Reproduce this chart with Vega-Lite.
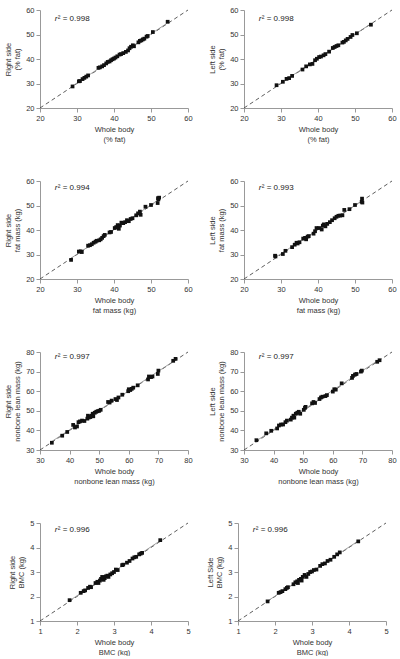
{
  "$schema": "https://vega.github.io/schema/vega-lite/v6.json",
  "background": "white",
  "padding": {"left": 4, "top": 6, "right": 2, "bottom": 0},
  "spacing": 34,
  "datasets": {
    "p1": [{"x":28.8,"y":28.8},{"x":30.5,"y":30.9},{"x":30.8,"y":31.0},{"x":31.5,"y":31.8},{"x":32.0,"y":32.3},{"x":32.5,"y":32.8},{"x":33.0,"y":33.3},{"x":35.8,"y":36.4},{"x":36.2,"y":36.6},{"x":36.8,"y":37.0},{"x":37.3,"y":37.5},{"x":37.9,"y":38.2},{"x":38.3,"y":38.8},{"x":38.8,"y":39.0},{"x":39.2,"y":39.5},{"x":39.6,"y":39.9},{"x":40.0,"y":40.2},{"x":40.4,"y":40.6},{"x":40.9,"y":41.1},{"x":41.5,"y":41.8},{"x":41.9,"y":42.0},{"x":42.5,"y":42.4},{"x":43.2,"y":42.9},{"x":43.8,"y":43.5},{"x":44.2,"y":44.4},{"x":44.6,"y":45.0},{"x":45.1,"y":45.6},{"x":45.4,"y":45.2},{"x":46.6,"y":46.8},{"x":47.0,"y":47.4},{"x":47.4,"y":47.6},{"x":47.8,"y":48.0},{"x":48.2,"y":48.3},{"x":48.8,"y":49.1},{"x":49.1,"y":49.4},{"x":50.5,"y":51.0},{"x":54.5,"y":55.2}],
    "p2": [{"x":28.8,"y":29.3},{"x":30.5,"y":30.7},{"x":31.5,"y":31.9},{"x":32.2,"y":32.2},{"x":33.0,"y":33.1},{"x":35.8,"y":35.7},{"x":36.8,"y":37.0},{"x":37.8,"y":37.8},{"x":38.5,"y":38.0},{"x":39.2,"y":39.5},{"x":39.7,"y":40.1},{"x":40.3,"y":40.8},{"x":40.8,"y":41.0},{"x":41.5,"y":41.5},{"x":42.0,"y":42.0},{"x":43.0,"y":43.0},{"x":44.0,"y":44.5},{"x":44.5,"y":44.9},{"x":45.0,"y":45.3},{"x":45.5,"y":45.6},{"x":46.6,"y":46.7},{"x":47.0,"y":47.0},{"x":47.5,"y":47.6},{"x":48.0,"y":48.2},{"x":48.8,"y":49.0},{"x":49.3,"y":49.8},{"x":50.5,"y":50.5},{"x":54.3,"y":54.0}],
    "p3": [{"x":28.4,"y":27.8},{"x":30.5,"y":31.2},{"x":31.0,"y":31.3},{"x":31.3,"y":31.0},{"x":33.0,"y":33.6},{"x":33.5,"y":33.8},{"x":34.0,"y":34.2},{"x":34.5,"y":34.8},{"x":35.0,"y":35.2},{"x":35.3,"y":35.6},{"x":36.0,"y":35.8},{"x":36.4,"y":36.2},{"x":36.8,"y":36.8},{"x":37.2,"y":37.5},{"x":37.5,"y":38.0},{"x":38.8,"y":39.0},{"x":39.2,"y":39.2},{"x":40.2,"y":40.8},{"x":40.6,"y":41.2},{"x":41.0,"y":42.0},{"x":41.3,"y":40.5},{"x":41.6,"y":41.8},{"x":42.0,"y":43.0},{"x":42.5,"y":42.8},{"x":43.0,"y":43.2},{"x":43.5,"y":44.0},{"x":44.0,"y":43.6},{"x":44.5,"y":44.5},{"x":45.0,"y":44.8},{"x":46.0,"y":46.0},{"x":46.5,"y":46.8},{"x":47.0,"y":47.5},{"x":47.2,"y":46.2},{"x":48.5,"y":49.5},{"x":50.0,"y":50.2},{"x":51.8,"y":51.0},{"x":52.0,"y":52.5},{"x":52.2,"y":53.2},{"x":51.9,"y":53.0}],
    "p4": [{"x":28.4,"y":29.5},{"x":28.5,"y":29.2},{"x":30.5,"y":30.2},{"x":31.2,"y":31.5},{"x":33.0,"y":33.0},{"x":33.7,"y":34.0},{"x":34.2,"y":34.8},{"x":34.5,"y":34.5},{"x":35.0,"y":35.0},{"x":36.0,"y":36.5},{"x":36.5,"y":36.8},{"x":36.8,"y":36.2},{"x":37.2,"y":37.3},{"x":37.5,"y":37.5},{"x":38.8,"y":38.5},{"x":39.2,"y":39.5},{"x":39.6,"y":40.8},{"x":40.3,"y":40.8},{"x":41.0,"y":40.2},{"x":41.3,"y":41.8},{"x":41.6,"y":42.3},{"x":42.0,"y":41.5},{"x":42.5,"y":42.5},{"x":43.2,"y":43.2},{"x":43.8,"y":44.0},{"x":44.5,"y":44.8},{"x":45.0,"y":45.4},{"x":45.5,"y":45.8},{"x":46.0,"y":45.9},{"x":46.6,"y":46.0},{"x":47.1,"y":48.2},{"x":48.5,"y":48.5},{"x":50.0,"y":50.2},{"x":51.8,"y":51.5},{"x":51.9,"y":52.8},{"x":52.0,"y":51.2}],
    "p5": [{"x":34.0,"y":33.7},{"x":37.5,"y":37.3},{"x":39.2,"y":39.2},{"x":41.2,"y":42.8},{"x":41.8,"y":41.5},{"x":42.5,"y":42.0},{"x":43.0,"y":44.2},{"x":43.5,"y":44.6},{"x":44.2,"y":45.0},{"x":45.0,"y":44.8},{"x":46.0,"y":46.0},{"x":46.2,"y":47.5},{"x":46.5,"y":46.6},{"x":47.0,"y":46.8},{"x":47.5,"y":47.5},{"x":47.8,"y":48.5},{"x":48.0,"y":47.2},{"x":48.5,"y":49.0},{"x":49.0,"y":49.5},{"x":49.5,"y":49.8},{"x":50.0,"y":50.0},{"x":50.5,"y":50.5},{"x":53.0,"y":54.5},{"x":53.5,"y":54.2},{"x":54.2,"y":55.2},{"x":55.5,"y":56.0},{"x":56.0,"y":55.5},{"x":56.5,"y":56.8},{"x":57.8,"y":58.2},{"x":59.8,"y":60.0},{"x":60.0,"y":61.0},{"x":60.5,"y":60.6},{"x":61.0,"y":61.2},{"x":61.5,"y":61.8},{"x":63.0,"y":63.0},{"x":66.5,"y":66.0},{"x":66.8,"y":67.5},{"x":67.5,"y":67.2},{"x":68.0,"y":67.5},{"x":69.8,"y":68.8},{"x":70.0,"y":70.5},{"x":75.0,"y":75.5},{"x":75.8,"y":76.5}],
    "p6": [{"x":34.2,"y":35.0},{"x":37.5,"y":38.5},{"x":39.2,"y":39.8},{"x":41.2,"y":41.0},{"x":41.8,"y":42.5},{"x":42.5,"y":43.0},{"x":43.2,"y":43.0},{"x":44.0,"y":44.2},{"x":44.5,"y":45.0},{"x":45.8,"y":45.5},{"x":46.2,"y":46.5},{"x":46.7,"y":47.5},{"x":47.0,"y":46.5},{"x":47.5,"y":48.5},{"x":48.0,"y":49.0},{"x":48.5,"y":49.5},{"x":49.0,"y":48.5},{"x":50.2,"y":50.5},{"x":50.6,"y":51.5},{"x":50.8,"y":52.0},{"x":53.0,"y":53.8},{"x":53.5,"y":54.5},{"x":54.0,"y":54.0},{"x":55.5,"y":56.0},{"x":56.0,"y":56.8},{"x":56.5,"y":57.2},{"x":57.5,"y":57.5},{"x":58.0,"y":58.0},{"x":60.0,"y":59.8},{"x":60.5,"y":61.0},{"x":61.0,"y":60.8},{"x":63.0,"y":64.0},{"x":66.5,"y":66.8},{"x":66.8,"y":67.8},{"x":67.5,"y":68.5},{"x":68.0,"y":68.8},{"x":69.5,"y":70.0},{"x":69.8,"y":70.5},{"x":75.0,"y":75.0},{"x":75.8,"y":75.8}],
    "p7": [{"x":1.8,"y":1.85},{"x":2.1,"y":2.15},{"x":2.18,"y":2.22},{"x":2.22,"y":2.25},{"x":2.3,"y":2.35},{"x":2.35,"y":2.4},{"x":2.38,"y":2.38},{"x":2.5,"y":2.55},{"x":2.55,"y":2.6},{"x":2.58,"y":2.55},{"x":2.62,"y":2.65},{"x":2.65,"y":2.72},{"x":2.68,"y":2.8},{"x":2.72,"y":2.68},{"x":2.75,"y":2.75},{"x":2.78,"y":2.82},{"x":2.82,"y":2.85},{"x":2.85,"y":2.8},{"x":2.9,"y":2.9},{"x":2.95,"y":2.95},{"x":3.0,"y":3.0},{"x":3.05,"y":3.1},{"x":3.1,"y":3.08},{"x":3.22,"y":3.28},{"x":3.25,"y":3.3},{"x":3.35,"y":3.38},{"x":3.42,"y":3.45},{"x":3.5,"y":3.55},{"x":3.55,"y":3.6},{"x":3.6,"y":3.62},{"x":3.68,"y":3.72},{"x":3.72,"y":3.75},{"x":3.76,"y":3.78},{"x":4.25,"y":4.3}],
    "p8": [{"x":1.8,"y":1.8},{"x":2.1,"y":2.15},{"x":2.15,"y":2.18},{"x":2.2,"y":2.22},{"x":2.28,"y":2.3},{"x":2.32,"y":2.35},{"x":2.35,"y":2.38},{"x":2.5,"y":2.5},{"x":2.55,"y":2.58},{"x":2.6,"y":2.62},{"x":2.62,"y":2.55},{"x":2.65,"y":2.68},{"x":2.7,"y":2.72},{"x":2.72,"y":2.65},{"x":2.75,"y":2.8},{"x":2.8,"y":2.88},{"x":2.85,"y":2.8},{"x":2.9,"y":2.92},{"x":2.95,"y":3.0},{"x":3.0,"y":3.02},{"x":3.05,"y":3.08},{"x":3.12,"y":3.1},{"x":3.22,"y":3.25},{"x":3.28,"y":3.32},{"x":3.35,"y":3.35},{"x":3.42,"y":3.45},{"x":3.5,"y":3.5},{"x":3.6,"y":3.62},{"x":3.68,"y":3.72},{"x":3.75,"y":3.8},{"x":4.25,"y":4.25}],
    "id20": [{"x":20,"y":20},{"x":60,"y":60}],
    "id30": [{"x":30,"y":30},{"x":80,"y":80}],
    "id1": [{"x":1,"y":1},{"x":5,"y":5}]
  },
  "vconcat": [
    {"hconcat": [
      {"width":148,"height":98,
       "layer":[
        {"data":{"name":"id20"},"mark":{"type":"line","color":"#333","strokeWidth":0.8,"strokeDash":[4,3]},
         "encoding":{"x":{"field":"x","type":"quantitative","scale":{"domain":[20,60]},"axis":{"values":[20,30,40,50,60],"tickCount":10,"title":["Whole body","(% fat)"]}},
                     "y":{"field":"y","type":"quantitative","scale":{"domain":[20,60]},"axis":{"values":[20,30,40,50,60],"tickCount":10,"title":["Right side","(% fat)"]}}}},
        {"data":{"name":"p1"},"transform":[{"regression":"y","on":"x"}],"mark":{"type":"line","color":"#888","strokeWidth":0.8},"encoding":{"x":{"field":"x","type":"quantitative"},"y":{"field":"y","type":"quantitative"}}},
        {"data":{"name":"p1"},"mark":{"type":"point","shape":"square","filled":true,"color":"#111","opacity":1,"size":14},"encoding":{"x":{"field":"x","type":"quantitative"},"y":{"field":"y","type":"quantitative"}}},
        {"data":{"values":[{"r2":"0.998"}]},"mark":{"type":"text","align":"left","baseline":"middle","fontSize":8,"fontStyle":"italic","color":"#222"},"encoding":{"x":{"datum":24},"y":{"datum":56.3},"text":{"value":"r"}}},
        {"data":{"values":[{"r2":"0.998"}]},"mark":{"type":"text","align":"left","baseline":"middle","fontSize":8,"dx":3,"color":"#222"},"encoding":{"x":{"datum":24},"y":{"datum":56.3},"text":{"value":"² = 0.998"}}}
       ]},
      {"width":148,"height":98,
       "layer":[
        {"data":{"name":"id20"},"mark":{"type":"line","color":"#333","strokeWidth":0.8,"strokeDash":[4,3]},
         "encoding":{"x":{"field":"x","type":"quantitative","scale":{"domain":[20,60]},"axis":{"values":[20,30,40,50,60],"tickCount":10,"title":["Whole body","(% fat)"]}},
                     "y":{"field":"y","type":"quantitative","scale":{"domain":[20,60]},"axis":{"values":[20,30,40,50,60],"tickCount":10,"title":["Left side","(% fat)"]}}}},
        {"data":{"name":"p2"},"transform":[{"regression":"y","on":"x"}],"mark":{"type":"line","color":"#888","strokeWidth":0.8},"encoding":{"x":{"field":"x","type":"quantitative"},"y":{"field":"y","type":"quantitative"}}},
        {"data":{"name":"p2"},"mark":{"type":"point","shape":"square","filled":true,"color":"#111","opacity":1,"size":14},"encoding":{"x":{"field":"x","type":"quantitative"},"y":{"field":"y","type":"quantitative"}}},
        {"data":{"values":[{"r2":"0.998"}]},"mark":{"type":"text","align":"left","baseline":"middle","fontSize":8,"fontStyle":"italic","color":"#222"},"encoding":{"x":{"datum":24},"y":{"datum":56.3},"text":{"value":"r"}}},
        {"data":{"values":[{"r2":"0.998"}]},"mark":{"type":"text","align":"left","baseline":"middle","fontSize":8,"dx":3,"color":"#222"},"encoding":{"x":{"datum":24},"y":{"datum":56.3},"text":{"value":"² = 0.998"}}}
       ]}
    ]},
    {"hconcat": [
      {"width":148,"height":98,
       "layer":[
        {"data":{"name":"id20"},"mark":{"type":"line","color":"#333","strokeWidth":0.8,"strokeDash":[4,3]},
         "encoding":{"x":{"field":"x","type":"quantitative","scale":{"domain":[20,60]},"axis":{"values":[20,30,40,50,60],"tickCount":10,"title":["Whole body","fat mass (kg)"]}},
                     "y":{"field":"y","type":"quantitative","scale":{"domain":[20,60]},"axis":{"values":[20,30,40,50,60],"tickCount":10,"title":["Right side","fat mass (kg)"]}}}},
        {"data":{"name":"p3"},"transform":[{"regression":"y","on":"x"}],"mark":{"type":"line","color":"#888","strokeWidth":0.8},"encoding":{"x":{"field":"x","type":"quantitative"},"y":{"field":"y","type":"quantitative"}}},
        {"data":{"name":"p3"},"mark":{"type":"point","shape":"square","filled":true,"color":"#111","opacity":1,"size":14},"encoding":{"x":{"field":"x","type":"quantitative"},"y":{"field":"y","type":"quantitative"}}},
        {"data":{"values":[{"r2":"0.994"}]},"mark":{"type":"text","align":"left","baseline":"middle","fontSize":8,"fontStyle":"italic","color":"#222"},"encoding":{"x":{"datum":24},"y":{"datum":57.3},"text":{"value":"r"}}},
        {"data":{"values":[{"r2":"0.994"}]},"mark":{"type":"text","align":"left","baseline":"middle","fontSize":8,"dx":3,"color":"#222"},"encoding":{"x":{"datum":24},"y":{"datum":57.3},"text":{"value":"² = 0.994"}}}
       ]},
      {"width":148,"height":98,
       "layer":[
        {"data":{"name":"id20"},"mark":{"type":"line","color":"#333","strokeWidth":0.8,"strokeDash":[4,3]},
         "encoding":{"x":{"field":"x","type":"quantitative","scale":{"domain":[20,60]},"axis":{"values":[20,30,40,50,60],"tickCount":10,"title":["Whole body","fat mass (kg)"]}},
                     "y":{"field":"y","type":"quantitative","scale":{"domain":[20,60]},"axis":{"values":[20,30,40,50,60],"tickCount":10,"title":["Left side","fat mass (kg)"]}}}},
        {"data":{"name":"p4"},"transform":[{"regression":"y","on":"x"}],"mark":{"type":"line","color":"#888","strokeWidth":0.8},"encoding":{"x":{"field":"x","type":"quantitative"},"y":{"field":"y","type":"quantitative"}}},
        {"data":{"name":"p4"},"mark":{"type":"point","shape":"square","filled":true,"color":"#111","opacity":1,"size":14},"encoding":{"x":{"field":"x","type":"quantitative"},"y":{"field":"y","type":"quantitative"}}},
        {"data":{"values":[{"r2":"0.993"}]},"mark":{"type":"text","align":"left","baseline":"middle","fontSize":8,"fontStyle":"italic","color":"#222"},"encoding":{"x":{"datum":24},"y":{"datum":57.3},"text":{"value":"r"}}},
        {"data":{"values":[{"r2":"0.993"}]},"mark":{"type":"text","align":"left","baseline":"middle","fontSize":8,"dx":3,"color":"#222"},"encoding":{"x":{"datum":24},"y":{"datum":57.3},"text":{"value":"² = 0.993"}}}
       ]}
    ]},
    {"hconcat": [
      {"width":148,"height":98,
       "layer":[
        {"data":{"name":"id30"},"mark":{"type":"line","color":"#333","strokeWidth":0.8,"strokeDash":[4,3]},
         "encoding":{"x":{"field":"x","type":"quantitative","scale":{"domain":[30,80]},"axis":{"values":[30,40,50,60,70,80],"tickCount":10,"title":["Whole body","nonbone lean mass (kg)"]}},
                     "y":{"field":"y","type":"quantitative","scale":{"domain":[30,80]},"axis":{"values":[30,40,50,60,70,80],"tickCount":10,"title":["Right side","nonbone lean mass (kg)"]}}}},
        {"data":{"name":"p5"},"transform":[{"regression":"y","on":"x"}],"mark":{"type":"line","color":"#888","strokeWidth":0.8},"encoding":{"x":{"field":"x","type":"quantitative"},"y":{"field":"y","type":"quantitative"}}},
        {"data":{"name":"p5"},"mark":{"type":"point","shape":"square","filled":true,"color":"#111","opacity":1,"size":14},"encoding":{"x":{"field":"x","type":"quantitative"},"y":{"field":"y","type":"quantitative"}}},
        {"data":{"values":[{"r2":"0.997"}]},"mark":{"type":"text","align":"left","baseline":"middle","fontSize":8,"fontStyle":"italic","color":"#222"},"encoding":{"x":{"datum":35},"y":{"datum":77.5},"text":{"value":"r"}}},
        {"data":{"values":[{"r2":"0.997"}]},"mark":{"type":"text","align":"left","baseline":"middle","fontSize":8,"dx":3,"color":"#222"},"encoding":{"x":{"datum":35},"y":{"datum":77.5},"text":{"value":"² = 0.997"}}}
       ]},
      {"width":148,"height":98,
       "layer":[
        {"data":{"name":"id30"},"mark":{"type":"line","color":"#333","strokeWidth":0.8,"strokeDash":[4,3]},
         "encoding":{"x":{"field":"x","type":"quantitative","scale":{"domain":[30,80]},"axis":{"values":[30,40,50,60,70,80],"tickCount":10,"title":["Whole body","nonbone lean mass (kg)"]}},
                     "y":{"field":"y","type":"quantitative","scale":{"domain":[30,80]},"axis":{"values":[30,40,50,60,70,80],"tickCount":10,"title":["Left side","nonbone lean mass (kg)"]}}}},
        {"data":{"name":"p6"},"transform":[{"regression":"y","on":"x"}],"mark":{"type":"line","color":"#888","strokeWidth":0.8},"encoding":{"x":{"field":"x","type":"quantitative"},"y":{"field":"y","type":"quantitative"}}},
        {"data":{"name":"p6"},"mark":{"type":"point","shape":"square","filled":true,"color":"#111","opacity":1,"size":14},"encoding":{"x":{"field":"x","type":"quantitative"},"y":{"field":"y","type":"quantitative"}}},
        {"data":{"values":[{"r2":"0.997"}]},"mark":{"type":"text","align":"left","baseline":"middle","fontSize":8,"fontStyle":"italic","color":"#222"},"encoding":{"x":{"datum":35},"y":{"datum":77.5},"text":{"value":"r"}}},
        {"data":{"values":[{"r2":"0.997"}]},"mark":{"type":"text","align":"left","baseline":"middle","fontSize":8,"dx":3,"color":"#222"},"encoding":{"x":{"datum":35},"y":{"datum":77.5},"text":{"value":"² = 0.997"}}}
       ]}
    ]},
    {"hconcat": [
      {"width":148,"height":98,
       "layer":[
        {"data":{"name":"id1"},"mark":{"type":"line","color":"#333","strokeWidth":0.8,"strokeDash":[4,3]},
         "encoding":{"x":{"field":"x","type":"quantitative","scale":{"domain":[1,5]},"axis":{"values":[1,2,3,4,5],"tickCount":10,"format":"d","title":["Whole body","BMC (kg)"]}},
                     "y":{"field":"y","type":"quantitative","scale":{"domain":[1,5]},"axis":{"values":[1,2,3,4,5],"tickCount":10,"format":"d","title":["Right side","BMC (kg)"]}}}},
        {"data":{"name":"p7"},"transform":[{"regression":"y","on":"x"}],"mark":{"type":"line","color":"#888","strokeWidth":0.8},"encoding":{"x":{"field":"x","type":"quantitative"},"y":{"field":"y","type":"quantitative"}}},
        {"data":{"name":"p7"},"mark":{"type":"point","shape":"square","filled":true,"color":"#111","opacity":1,"size":14},"encoding":{"x":{"field":"x","type":"quantitative"},"y":{"field":"y","type":"quantitative"}}},
        {"data":{"values":[{"r2":"0.996"}]},"mark":{"type":"text","align":"left","baseline":"middle","fontSize":8,"fontStyle":"italic","color":"#222"},"encoding":{"x":{"datum":1.4},"y":{"datum":4.72},"text":{"value":"r"}}},
        {"data":{"values":[{"r2":"0.996"}]},"mark":{"type":"text","align":"left","baseline":"middle","fontSize":8,"dx":3,"color":"#222"},"encoding":{"x":{"datum":1.4},"y":{"datum":4.72},"text":{"value":"² = 0.996"}}}
       ]},
      {"width":148,"height":98,
       "layer":[
        {"data":{"name":"id1"},"mark":{"type":"line","color":"#333","strokeWidth":0.8,"strokeDash":[4,3]},
         "encoding":{"x":{"field":"x","type":"quantitative","scale":{"domain":[1,5]},"axis":{"values":[1,2,3,4,5],"tickCount":10,"format":"d","title":["Whole body","BMC (kg)"]}},
                     "y":{"field":"y","type":"quantitative","scale":{"domain":[1,5]},"axis":{"values":[1,2,3,4,5],"tickCount":10,"format":"d","title":["Left Side","BMC (kg)"]}}}},
        {"data":{"name":"p8"},"transform":[{"regression":"y","on":"x"}],"mark":{"type":"line","color":"#888","strokeWidth":0.8},"encoding":{"x":{"field":"x","type":"quantitative"},"y":{"field":"y","type":"quantitative"}}},
        {"data":{"name":"p8"},"mark":{"type":"point","shape":"square","filled":true,"color":"#111","opacity":1,"size":14},"encoding":{"x":{"field":"x","type":"quantitative"},"y":{"field":"y","type":"quantitative"}}},
        {"data":{"values":[{"r2":"0.996"}]},"mark":{"type":"text","align":"left","baseline":"middle","fontSize":8,"fontStyle":"italic","color":"#222"},"encoding":{"x":{"datum":1.4},"y":{"datum":4.72},"text":{"value":"r"}}},
        {"data":{"values":[{"r2":"0.996"}]},"mark":{"type":"text","align":"left","baseline":"middle","fontSize":8,"dx":3,"color":"#222"},"encoding":{"x":{"datum":1.4},"y":{"datum":4.72},"text":{"value":"² = 0.996"}}}
       ]}
    ]}
  ],
  "config": {
    "font": "Liberation Sans",
    "view": {"stroke": null},
    "concat": {"spacing": 15},
    "axis": {"grid": false, "domainColor": "#999", "tickColor": "#999", "tickSize": 4, "labelFontSize": 7.5, "labelColor": "#333", "labelOverlap": false, "labelBound": false, "labelFlush": false, "titleFontSize": 7.5, "titleFontWeight": "normal", "titleColor": "#333", "labelPadding": 2, "titlePadding": 4, "titleLineHeight": 9.5}
  }
}
